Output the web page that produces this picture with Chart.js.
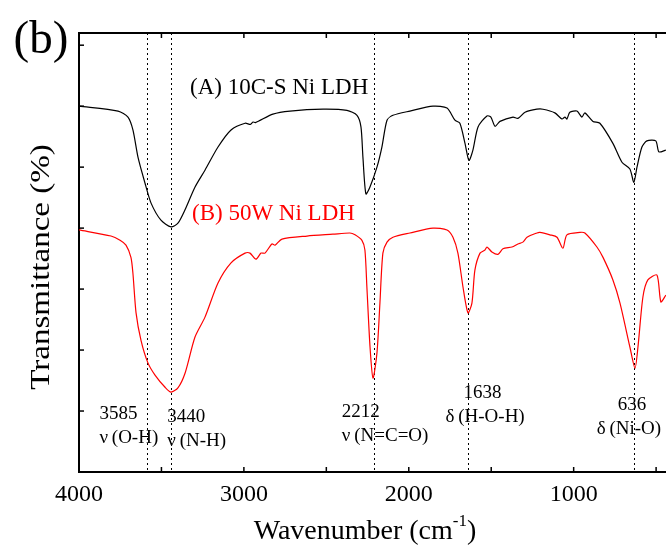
<!DOCTYPE html>
<html>
<head>
<meta charset="utf-8">
<script src="https://cdn.jsdelivr.net/npm/chart.js@4"></script>
<style>
    body { margin: 0; background: #fff; }
    #wrap { width: 666px; height: 549px; position: relative; }
</style>
</head>
<body>
<div id="wrap"><canvas id="ftirChart"></canvas></div>
<script>
// x axis labels
const xTicks = [4000, 3000, 2000, 1000];

// (A) 10C-S Ni LDH (arbitrary transmittance units)
const wnA = [4000, 3763, 3703, 3673, 3642, 3600, 3563, 3503, 3442, 3400, 3357, 3297, 3236, 3157, 3078,
    2993, 2960, 2945, 2930, 2824, 2720, 2520, 2375, 2314, 2290, 2278, 2260, 2236, 2193, 2163,
    2132, 2096, 1993, 1853, 1768, 1720, 1690, 1659, 1635, 1611, 1580, 1526, 1502, 1477, 1447,
    1368, 1338, 1295, 1223, 1186, 1114, 1071, 1053, 1041, 1023, 980, 950, 932, 883, 841,
    762, 707, 659, 635, 616, 586, 556, 502, 483, 441];
const tA = [6.00, 5.92, 5.82, 5.61, 5.16, 4.74, 4.41, 4.13, 4.02, 4.08, 4.30, 4.67, 4.95, 5.33, 5.61,
    5.72, 5.70, 5.74, 5.73, 5.87, 5.92, 5.95, 5.93, 5.85, 5.66, 5.16, 4.56, 4.67, 5.00, 5.33,
    5.77, 5.85, 5.92, 6.00, 5.97, 5.77, 5.72, 5.39, 5.11, 5.28, 5.66, 5.84, 5.82, 5.67, 5.75,
    5.82, 5.80, 5.90, 5.95, 5.95, 5.89, 5.79, 5.82, 5.79, 5.90, 5.92, 5.82, 5.89, 5.75, 5.72,
    5.39, 5.08, 4.97, 4.75, 5.00, 5.33, 5.43, 5.43, 5.25, 5.28];

// (B) 50W Ni LDH
const wnB = [4000, 3806, 3751, 3715, 3685, 3673, 3654, 3624, 3582, 3539, 3478, 3442, 3400, 3357, 3297,
    3236, 3157, 3078, 2993, 2963, 2927, 2896, 2872, 2830, 2811, 2769, 2617, 2460, 2357, 2326,
    2284, 2266, 2254, 2235, 2217, 2193, 2175, 2157, 2132, 2096, 1993, 1853, 1768, 1732, 1702,
    1671, 1641, 1617, 1599, 1568, 1538, 1526, 1496, 1459, 1429, 1374, 1338, 1308, 1283, 1223,
    1205, 1144, 1101, 1065, 1041, 962, 932, 859, 822, 762, 719, 659, 628, 610, 580,
    550, 495, 471, 441];
const tB = [3.97, 3.87, 3.80, 3.72, 3.52, 3.26, 2.61, 2.16, 1.79, 1.59, 1.39, 1.31, 1.38, 1.62, 2.21,
    2.54, 3.10, 3.43, 3.59, 3.59, 3.49, 3.59, 3.59, 3.74, 3.72, 3.82, 3.87, 3.90, 3.92, 3.89,
    3.80, 3.64, 3.03, 2.05, 1.54, 1.95, 2.77, 3.59, 3.77, 3.85, 3.92, 4.00, 3.97, 3.85, 3.59,
    3.03, 2.61, 2.77, 3.31, 3.59, 3.64, 3.69, 3.61, 3.57, 3.66, 3.69, 3.74, 3.77, 3.85, 3.92,
    3.93, 3.89, 3.85, 3.67, 3.89, 3.93, 3.92, 3.69, 3.52, 3.15, 2.77, 2.05, 1.70, 2.05, 2.87,
    3.15, 3.23, 2.79, 2.90];

// band assignments
const peaks = [3585, 3440, 2212, 1638, 636];
const peakNumbers = ['3585', '3440', '2212', '1638', '636'];
const peakModes = ['ν\u2009(O-H)', 'ν\u2009(N-H)', 'ν\u2009(N=C=O)', 'δ\u2009(H-O-H)', 'δ\u2009(Ni-O)'];
const seriesNames = ['(A) 10C-S Ni LDH', '(B) 50W Ni LDH'];

const serif = "'Liberation Serif', 'Times New Roman', serif";

document.addEventListener('DOMContentLoaded', function () {
    const ctx = document.getElementById('ftirChart').getContext('2d');

    // text placement for the band labels (offset from dotted line, px)
    const annLayout = [
        {dx1: -48, y1: 414, dx2: -48, y2: 438},
        {dx1: -4, y1: 417, dx2: -4, y2: 441},
        {dx1: -32, y1: 412, dx2: -32, y2: 436},
        {dx1: -5, y1: 393, dx2: -23, y2: 417},
        {dx1: -16, y1: 405, dx2: -37, y2: 429}
    ];

    const decor = {
        id: 'decor',
        beforeDatasetsDraw(chart) {
            const c = chart.ctx, a = chart.chartArea, x = chart.scales.x;
            c.save();
            c.strokeStyle = '#000';
            c.lineWidth = 1;
            c.setLineDash([2, 3]);
            peaks.forEach(p => {
                const px = Math.round(x.getPixelForValue(p)) + 0.5;
                c.beginPath();
                c.moveTo(px, a.top);
                c.lineTo(px, a.bottom);
                c.stroke();
            });
            c.restore();
        },
        afterDraw(chart) {
            const c = chart.ctx, a = chart.chartArea, x = chart.scales.x, y = chart.scales.y;
            c.save();
            c.strokeStyle = '#000';
            c.lineWidth = 2;
            // top frame
            c.beginPath();
            c.moveTo(a.left, a.top);
            c.lineTo(a.right, a.top);
            c.stroke();
            // inward ticks
            c.lineWidth = 1.5;
            for (let v = 4000; v >= x.min; v -= 500) {
                const px = x.getPixelForValue(v);
                const len = 5;
                c.beginPath();
                c.moveTo(px, a.bottom);
                c.lineTo(px, a.bottom - len);
                c.moveTo(px, a.top);
                c.lineTo(px, a.top + len);
                c.stroke();
            }
            for (let v = 1; v <= 7; v++) {
                const py = y.getPixelForValue(v);
                c.beginPath();
                c.moveTo(a.left, py);
                c.lineTo(a.left + 5, py);
                c.stroke();
            }

            // band labels
            c.fillStyle = '#000';
            c.font = '19px ' + serif;
            c.textAlign = 'left';
            c.textBaseline = 'middle';
            peaks.forEach((p, i) => {
                const px = x.getPixelForValue(p);
                const l = annLayout[i];
                c.fillText(peakNumbers[i], px + l.dx1, l.y1);
                c.fillText(peakModes[i], px + l.dx2, l.y2);
            });

            // series names
            c.font = '23px ' + serif;
            c.fillStyle = '#000';
            c.fillText(seriesNames[0], 190, 88);
            c.fillStyle = '#ff0000';
            c.fillText(seriesNames[1], 192, 214);

            // panel label
            c.fillStyle = '#000';
            c.font = '47px ' + serif;
            c.textAlign = 'center';
            c.fillText('(b)', 41, 41);

            // y title (a bit wider than the font's natural width, as in the original)
            c.font = '28px ' + serif;
            c.save();
            c.translate(42, 267);
            c.rotate(-Math.PI / 2);
            c.scale(1.18, 1);
            c.fillText('Transmittance (%)', 0, 0);
            c.restore();

            // x title with superscript
            c.textAlign = 'left';
            const t1 = 'Wavenumber (cm', sup = '-1', t2 = ')';
            c.font = '28px ' + serif;
            const w1 = c.measureText(t1).width, w3 = c.measureText(t2).width;
            c.font = '17px ' + serif;
            const w2 = c.measureText(sup).width;
            let sx = 365 - (w1 + w2 + w3) / 2;
            const ty = 532;
            c.font = '28px ' + serif;
            c.fillText(t1, sx, ty);
            c.font = '17px ' + serif;
            c.fillText(sup, sx + w1, ty - 10);
            c.font = '28px ' + serif;
            c.fillText(t2, sx + w1 + w2, ty);
            c.restore();
        }
    };

    new Chart(ctx, {
        type: 'line',
        data: {
            datasets: [
                {
                    label: seriesNames[0],
                    data: wnA.map((w, i) => ({x: w, y: tA[i]})),
                    borderColor: '#000000',
                    borderWidth: 1.2,
                    pointRadius: 0,
                    tension: 0.25,
                    fill: false
                },
                {
                    label: seriesNames[1],
                    data: wnB.map((w, i) => ({x: w, y: tB[i]})),
                    borderColor: '#ff0000',
                    borderWidth: 1.2,
                    pointRadius: 0,
                    tension: 0.25,
                    fill: false
                }
            ]
        },
        options: {
            responsive: true,
            maintainAspectRatio: false,
            animation: false,
            layout: {
                padding: {left: 79, top: 33, right: 0, bottom: 0}
            },
            scales: {
                x: {
                    type: 'linear',
                    reverse: true,
                    min: 440,
                    max: 4000,
                    afterBuildTicks: s => {
                        s.ticks = xTicks.map(v => ({value: v}));
                    },
                    afterFit: s => { s.height = 77; },
                    ticks: {
                        color: '#000',
                        padding: 8,
                        maxRotation: 0,
                        font: {family: serif, size: 24},
                        callback: v => String(v)
                    },
                    grid: {display: false, drawTicks: false},
                    border: {display: true, color: '#000', width: 2}
                },
                y: {
                    min: 0,
                    max: 7.2,
                    afterFit: s => { s.width = 0; },
                    ticks: {display: false},
                    grid: {display: false, drawTicks: false},
                    border: {display: true, color: '#000', width: 2}
                }
            },
            plugins: {
                legend: {display: false},
                tooltip: {enabled: false}
            }
        },
        plugins: [decor]
    });
});
</script>
</body>
</html>
